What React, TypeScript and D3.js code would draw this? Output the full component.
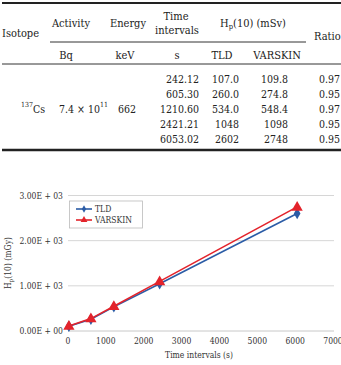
import React from "react";
import * as d3 from "d3";

const times = ["242.12", "605.30", "1210.60", "2421.21", "6053.02"];
const tldVals = ["107.0", "260.0", "534.0", "1048", "2602"];
const varskinVals = ["109.8", "274.8", "548.4", "1098", "2748"];
const ratios = ["0.97", "0.95", "0.97", "0.95", "0.95"];

const chartTime = [24, 605, 1211, 2421, 6053];
const chartTLD = [107, 260, 534, 1048, 2602];
const chartVARSKIN = [109.8, 274.8, 548.4, 1098, 2748];
const xTicks = [0, 1000, 2000, 3000, 4000, 5000, 6000, 7000];
const yTicks = [0, 1000, 2000, 3000];
const yTickLabels = ["0.00E + 00", "1.00E + 03", "2.00E + 03", "3.00E + 03"];

const BLUE = "#2b5ca6";
const RED = "#e3232b";
const SERIF = "'DejaVu Serif Condensed', 'DejaVu Serif', serif";

export default function App() {
  const x = d3.scaleLinear().domain([0, 7000]).range([68, 333]);
  const y = d3.scaleLinear().domain([0, 3000]).range([331, 195.5]);
  const line = d3
    .line<number>()
    .x((_, i) => x(chartTime[i]))
    .y((d) => y(d));
  const rowY = [78.5, 93.5, 108.5, 123.5, 139];
  const tri = d3.symbol().type(d3.symbolTriangle).size(55)();
  const dia = d3.symbol().type(d3.symbolDiamond).size(38)();

  return (
    <svg
      width={341}
      height={365}
      style={{ position: "absolute", left: 0, top: 0, background: "#fff", fontFamily: SERIF, fontStretch: "condensed" }}
    >
      {/* Table */}
      <g fill="#222" fontSize={11} dominantBaseline="central">
        <line x1={2} x2={341} y1={3} y2={3} stroke="#222" strokeWidth={2} />
        <text x={20.5} y={33} textAnchor="middle">Isotope</text>
        <text x={71} y={23} textAnchor="middle">Activity</text>
        <text x={128} y={23} textAnchor="middle">Energy</text>
        <text x={176} y={16} textAnchor="middle">Time</text>
        <text x={177} y={30} textAnchor="middle">intervals</text>
        <text x={253} y={23} textAnchor="middle">
          H<tspan fontSize={7.5} dy={3}>p</tspan>
          <tspan dy={-3}>(10) (mSv)</tspan>
        </text>
        <text x={314} y={36}>Ratio</text>
        <line x1={50} x2={306} y1={42} y2={42} stroke="#333" strokeWidth={1} />
        <text x={66} y={55} textAnchor="middle">Bq</text>
        <text x={125} y={55} textAnchor="middle">keV</text>
        <text x={177} y={55} textAnchor="middle">s</text>
        <text x={222} y={55} textAnchor="middle">TLD</text>
        <text x={277} y={55} textAnchor="middle">VARSKIN</text>
        <line x1={2} x2={341} y1={64} y2={64} stroke="#333" strokeWidth={1} />
        {times.map((t, i) => (
          <g key={i} fontSize={10.5}>
            <text x={199} y={rowY[i]} textAnchor="end">{t}</text>
            <text x={239} y={rowY[i]} textAnchor="end">{tldVals[i]}</text>
            <text x={288} y={rowY[i]} textAnchor="end">{varskinVals[i]}</text>
            <text x={340} y={rowY[i]} textAnchor="end">{ratios[i]}</text>
          </g>
        ))}
        <text x={21} y={108.5} fontSize={10.5}>
          <tspan fontSize={7} dy={-4}>137</tspan>
          <tspan dy={4}>Cs</tspan>
        </text>
        <text x={59} y={108.5} fontSize={10.5}>
          7.4 × 10<tspan fontSize={7} dy={-4}>11</tspan>
        </text>
        <text x={127} y={108.5} textAnchor="middle" fontSize={10.5}>662</text>
        <line x1={2} x2={341} y1={150} y2={150} stroke="#222" strokeWidth={2.5} />
      </g>

      {/* Chart */}
      <g fontSize={8.5} fill="#333">
        {yTicks.map((t, i) => (
          <g key={t}>
            <line x1={68} x2={334} y1={y(t)} y2={y(t)} stroke={t === 0 ? "#c8c8c8" : "#d6d6d6"} strokeWidth={1} />
            <text x={63} y={y(t)} textAnchor="end" dominantBaseline="central">
              {yTickLabels[i]}
            </text>
          </g>
        ))}
        {xTicks.map((t) => (
          <text key={t} x={x(t)} y={341} textAnchor="middle" dominantBaseline="central">
            {t}
          </text>
        ))}
        <text x={199} y={355} textAnchor="middle" dominantBaseline="central">
          Time intervals (s)
        </text>
        <text
          transform={`translate(8,263) rotate(-90)`}
          textAnchor="middle"
          dominantBaseline="central"
        >
          H<tspan fontSize={6} dy={2}>p</tspan>
          <tspan dy={-2}>(10) (mGy)</tspan>
        </text>

        <path d={line(chartTLD) || ""} fill="none" stroke={BLUE} strokeWidth={1.6} />
        <path d={line(chartVARSKIN) || ""} fill="none" stroke={RED} strokeWidth={1.6} />
        {chartTLD.map((v, i) => (
          <path key={"b" + i} d={dia || ""} transform={`translate(${x(chartTime[i])},${y(v)})`} fill={BLUE} />
        ))}
        {chartVARSKIN.map((v, i) => (
          <path key={"r" + i} d={tri || ""} transform={`translate(${x(chartTime[i])},${y(v) + 0.5})`} fill={RED} />
        ))}

        {/* Legend */}
        <rect x={69.5} y={201} width={73} height={27} fill="#fff" stroke="#bbb" strokeWidth={0.8} />
        <line x1={76} x2={92} y1={209} y2={209} stroke={BLUE} strokeWidth={1.6} />
        <path d={d3.symbol().type(d3.symbolDiamond).size(16)() || ""} transform="translate(84,209)" fill={BLUE} />
        <text x={95} y={209} dominantBaseline="central" fill="#333">TLD</text>
        <line x1={76} x2={92} y1={220} y2={220} stroke={RED} strokeWidth={1.6} />
        <path d={d3.symbol().type(d3.symbolTriangle).size(20)() || ""} transform="translate(84,220)" fill={RED} />
        <text x={95} y={220} dominantBaseline="central" fill="#333">VARSKIN</text>
      </g>
    </svg>
  );
}
